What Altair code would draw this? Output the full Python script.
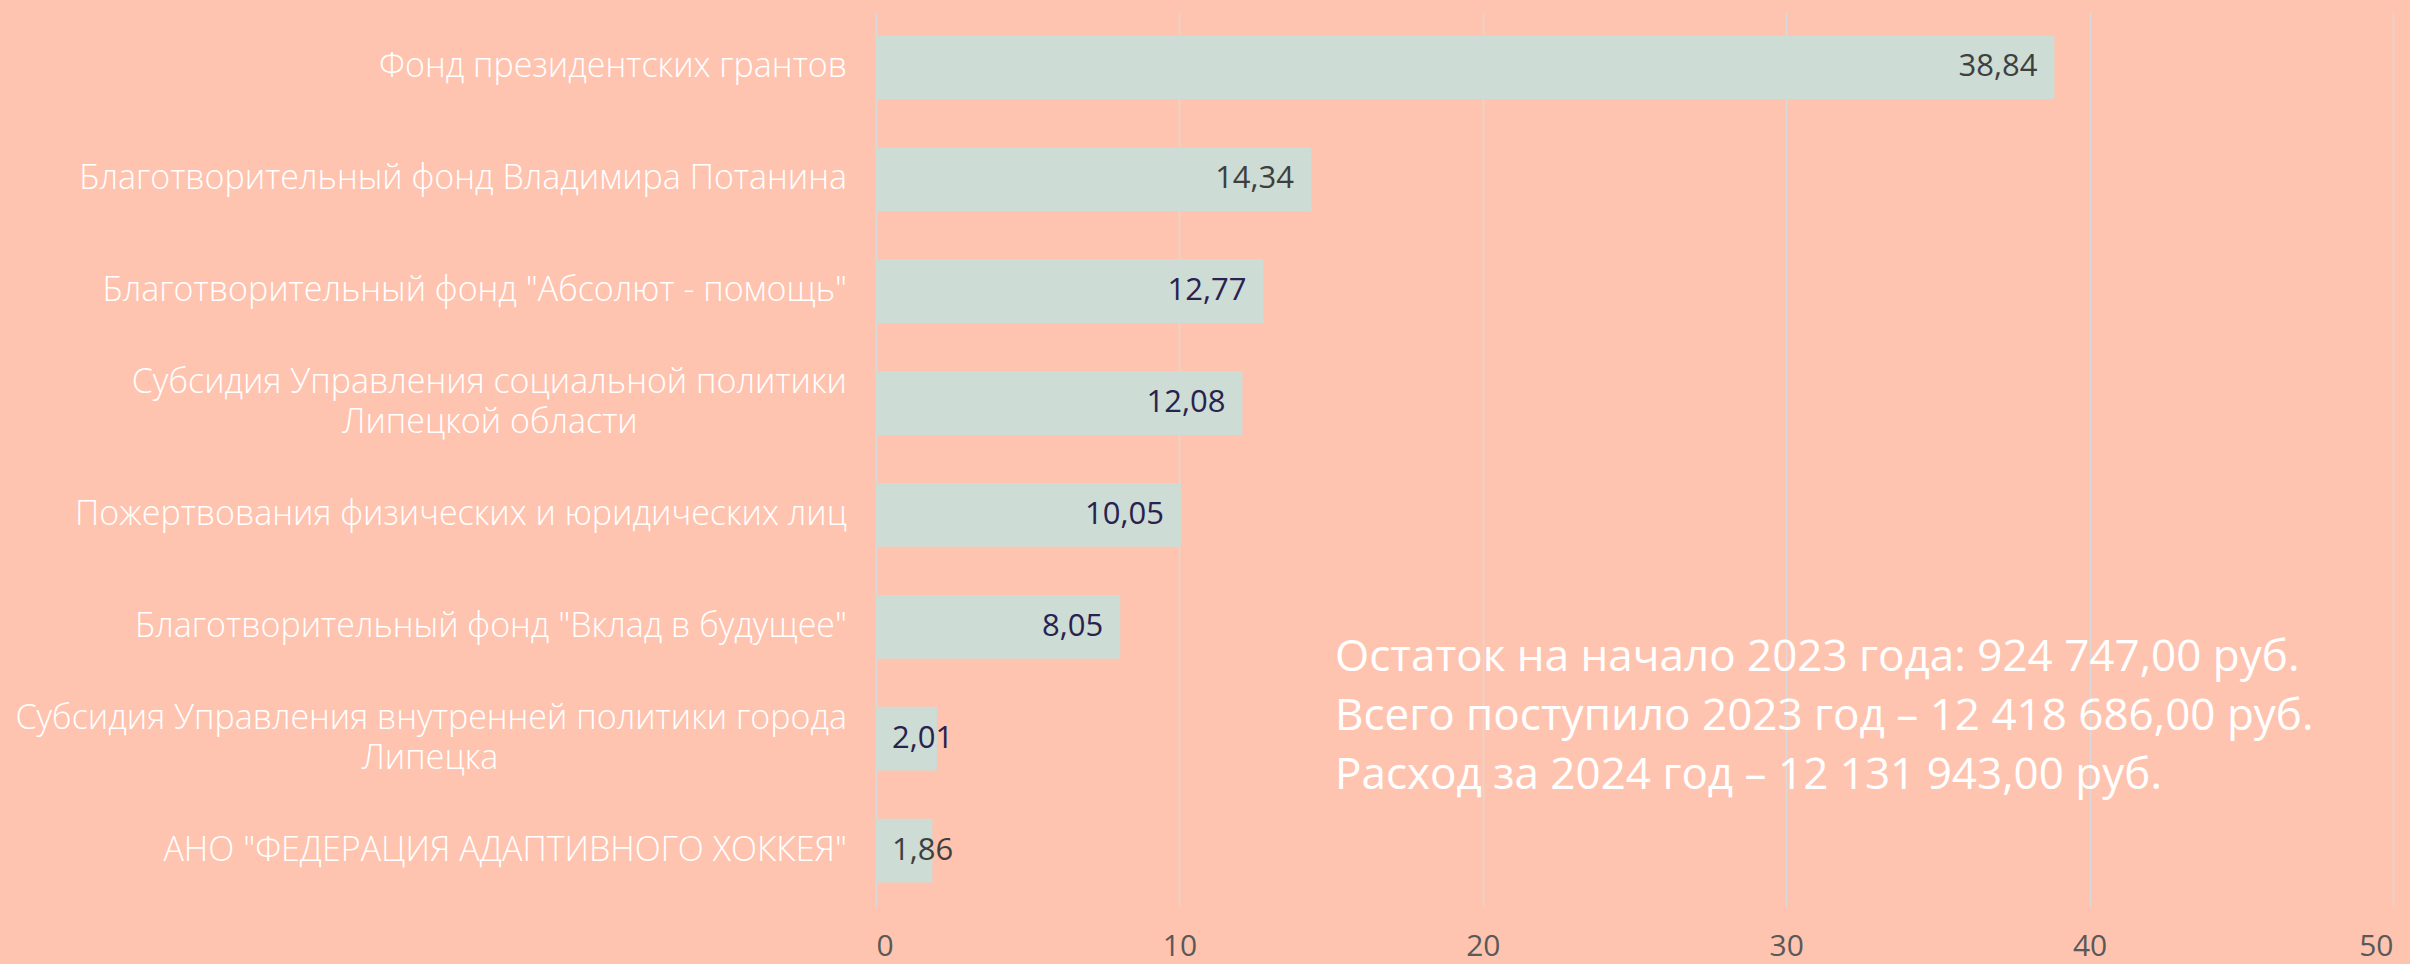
import altair as alt
import pandas as pd

categories = [
    "Фонд президентских грантов",
    "Благотворительный фонд Владимира Потанина",
    'Благотворительный фонд "Абсолют - помощь"',
    "Субсидия Управления социальной политики\nЛипецкой области",
    "Пожертвования физических и юридических лиц",
    'Благотворительный фонд "Вклад в будущее"',
    "Субсидия Управления внутренней политики города\nЛипецка",
    'АНО "ФЕДЕРАЦИЯ АДАПТИВНОГО ХОККЕЯ"',
]
values = [38.84, 14.34, 12.77, 12.08, 10.05, 8.05, 2.01, 1.86]
value_labels = ["38,84", "14,34", "12,77", "12,08", "10,05", "8,05", "2,01", "1,86"]
label_colors = ["#3f3f3f", "#3f3f3f", "#29224f", "#29224f", "#29224f", "#29224f", "#29224f", "#3f3f3f"]
x_ticks = [0, 10, 20, 30, 40, 50]
note_lines = [
    "Остаток на начало 2023 года: 924 747,00 руб.",
    "Всего поступило 2023 год – 12 418 686,00 руб.",
    "Расход за 2024 год – 12 131 943,00 руб.",
]

df = pd.DataFrame({"cat": categories, "value": values, "label": value_labels, "lc": label_colors})
df["line1"] = [c.split("\n")[0] for c in categories]
df["multi"] = ["\n" in c for c in categories]

FONT = "Open Sans"
YFS = 34
WHITE = "#ffffff"

y_enc = alt.Y(
    "cat:N",
    sort=categories,
    title=None,
    scale=alt.Scale(paddingInner=0.43, paddingOuter=0.21),
    axis=alt.Axis(labels=False, ticks=False, domain=False, grid=False),
)
y_plain = alt.Y("cat:N", sort=categories)

x_enc = alt.X(
    "value:Q",
    title=None,
    scale=alt.Scale(domain=[0, 50], nice=False),
    axis=alt.Axis(
        values=x_ticks,
        labelColor="#595959",
        labelFontSize=30,
        labelFont=FONT,
        labelPadding=25,
        ticks=False,
        domain=False,
        grid=True,
        gridColor="#d9d9d9",
        gridWidth=1.5,
    ),
)

bars = alt.Chart(df).mark_bar(color="#cddcd4").encode(x=x_enc, y=y_enc)

# category labels (drawn as text so two-line labels can be centred like the original)
cat_single = alt.Chart(df).transform_filter("!datum.multi").mark_text(
    align="right", baseline="middle", fontSize=YFS, font=FONT, fontWeight=300, color=WHITE
).encode(x=alt.value(-29), y=y_plain, text="line1:N")

cat_first = alt.Chart(df).transform_filter("datum.multi").mark_text(
    align="right", baseline="middle", dy=-20, fontSize=YFS, font=FONT, fontWeight=300, color=WHITE
).encode(x=alt.value(-29), y=y_plain, text="line1:N")

second_line_centres = [-386, -446]
multi = [c for c in categories if "\n" in c]
second_layers = []
for cat, cx in zip(multi, second_line_centres):
    sub = pd.DataFrame({"cat": [cat], "line2": [cat.split("\n")[1]]})
    second_layers.append(
        alt.Chart(sub).mark_text(
            align="center", baseline="middle", dy=20, fontSize=YFS, font=FONT,
            fontWeight=300, color=WHITE
        ).encode(x=alt.value(cx), y=y_plain, text="line2:N")
    )

big = alt.Chart(df).transform_filter("datum.value >= 5").mark_text(
    align="right", baseline="middle", dx=-17, fontSize=31, font=FONT
).encode(
    x="value:Q",
    y=y_plain,
    text="label:N",
    color=alt.Color("lc:N", scale=None),
)

small = alt.Chart(df).transform_filter("datum.value < 5").mark_text(
    align="left", baseline="middle", dx=16, fontSize=31, font=FONT
).encode(
    x=alt.datum(0),
    y=y_plain,
    text="label:N",
    color=alt.Color("lc:N", scale=None),
)

note = alt.Chart(pd.DataFrame({"t": [note_lines]})).mark_text(
    align="left", baseline="alphabetic", fontSize=44, font=FONT, color=WHITE, lineHeight=59
).encode(
    x=alt.value(459),
    y=alt.value(659),
    text="t",
)

chart = alt.layer(bars, cat_single, cat_first, *second_layers, big, small, note).properties(
    width=1517,
    height=894,
    background="#ffc4b0",
    autosize=alt.AutoSizeParams(type="none"),
    padding={"left": 876, "top": 12, "right": 17, "bottom": 58},
).configure_view(stroke=None)

chart.save("out.html", embed_options={"renderer": "svg", "actions": False})
